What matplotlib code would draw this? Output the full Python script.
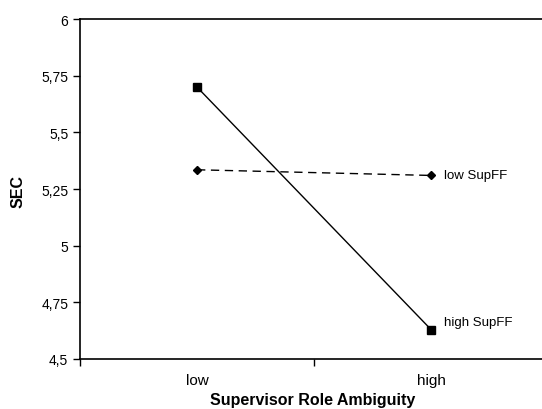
import matplotlib
matplotlib.use("Agg")
import matplotlib.pyplot as plt

plt.rcParams['font.family'] = ['Liberation Sans', 'DejaVu Sans']

categories = ['low', 'high']
high_supff = [5.70, 4.63]
low_supff = [5.335, 5.31]
y_ticks = [4.5, 4.75, 5.0, 5.25, 5.5, 5.75, 6.0]
y_tick_labels = ['4,5', '4,75', '5', '5,25', '5,5', '5,75', '6']

fig = plt.figure(figsize=(5.42, 4.10), dpi=100)
ax = fig.add_axes([0.1476, 0.122, 0.8635, 0.829])

x = list(range(len(categories)))
ax.plot(x, high_supff, color='black', lw=1, marker='s', ms=5.5)
ax.plot(x, low_supff, color='black', lw=1, ls=(0, (6, 4)), marker='D', ms=4)

ax.text(x[1] + 0.055, low_supff[1], 'low SupFF', va='center', ha='left', fontsize=9.5)
ax.text(x[1] + 0.055, high_supff[1] + 0.035, 'high SupFF', va='center', ha='left', fontsize=9.5)

ax.set_xlim(-0.5, 1.5)
ax.set_ylim(4.5, 6.0)
ax.set_yticks(y_ticks)
ax.set_yticklabels(y_tick_labels, fontsize=10)
ax.tick_params(axis='y', direction='out', length=5, width=1)

# boundary ticks between categories, labels centred on the categories
ax.set_xticks([-0.5, 0.5, 1.5])
ax.set_xticklabels(['', '', ''])
ax.set_xticks(x, minor=True)
ax.set_xticklabels(categories, minor=True, fontsize=11)
ax.tick_params(axis='x', which='major', direction='out', length=5, width=1)
ax.tick_params(axis='x', which='minor', length=0, pad=10)

for side in ['left', 'bottom', 'top']:
    ax.spines[side].set_linewidth(1.2)
ax.spines['right'].set_visible(False)

fig.text(18 / 542, 1 - 192 / 410, 'SEC', rotation=90, ha='center', va='center',
         fontsize=11.5, fontweight='bold')
fig.text(313 / 542, 1 - 401 / 410, 'Supervisor Role Ambiguity', ha='center', va='center',
         fontsize=11.5, fontweight='bold')

fig.savefig('out.png', dpi=100)
